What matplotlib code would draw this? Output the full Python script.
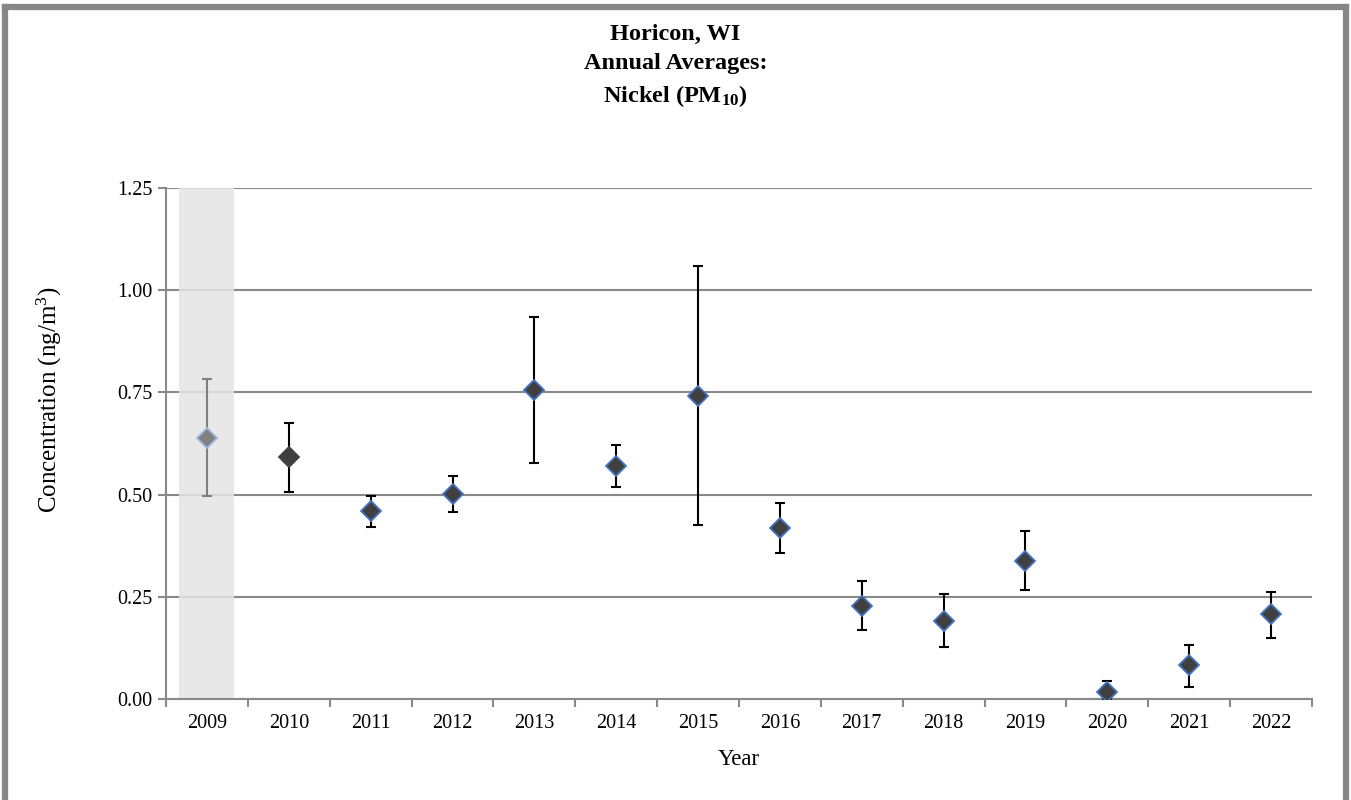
import matplotlib
matplotlib.use('Agg')
import matplotlib.pyplot as plt
from matplotlib.lines import Line2D
import numpy as np

plt.rcParams['font.family'] = ['Liberation Serif', 'DejaVu Serif']
plt.rcParams['mathtext.default'] = 'regular'

years = ['2009', '2010', '2011', '2012', '2013', '2014', '2015',
         '2016', '2017', '2018', '2019', '2020', '2021', '2022']
averages = [0.639, 0.592, 0.460, 0.501, 0.756, 0.571, 0.742,
            0.419, 0.228, 0.192, 0.338, 0.018, 0.082, 0.207]
upper = [0.782, 0.676, 0.497, 0.546, 0.935, 0.622, 1.059,
         0.479, 0.288, 0.257, 0.412, 0.044, 0.132, 0.262]
lower = [0.497, 0.506, 0.420, 0.457, 0.577, 0.519, 0.426,
         0.358, 0.169, 0.128, 0.266, 0.000, 0.030, 0.150]

avg = np.array(averages)
err_lo = avg - np.array(lower)
err_hi = np.array(upper) - avg
x = np.arange(len(years))

fig = plt.figure(figsize=(13.51, 8), dpi=100)
ax = fig.add_axes([0.1229, 0.12625, 0.9711 - 0.1229, 0.765 - 0.12625])

# 2009 shown as a shaded, greyed-out year
ax.axvspan(-0.34, 0.33, color='#e4e4e4', alpha=0.85, zorder=1, lw=0)

ax.errorbar(x[:1], avg[:1], yerr=[err_lo[:1], err_hi[:1]], fmt='none',
            ecolor='#808080', elinewidth=1.5, capsize=3.8, capthick=1.5, zorder=3)
ax.plot(x[:1], avg[:1], 'D', color='#808080', markeredgecolor='#9fb5e3',
        markersize=10, markeredgewidth=1.3, zorder=4)

ax.errorbar(x[1:], avg[1:], yerr=[err_lo[1:], err_hi[1:]], fmt='none',
            ecolor='black', elinewidth=1.5, capsize=3.8, capthick=1.5, zorder=3)
ax.plot(x[1:2], avg[1:2], 'D', color='#404040', markeredgecolor='#404040',
        markersize=10, markeredgewidth=1.3, zorder=4)
ax.plot(x[2:], avg[2:], 'D', color='#404040', markeredgecolor='#4472c4',
        markersize=10, markeredgewidth=1.3, zorder=4)

ax.set_xlim(-0.5, len(years) - 0.5)
ax.set_ylim(0, 1.25)
ax.set_yticks(np.arange(0, 1.26, 0.25))
ax.set_yticklabels(['%.2f' % v for v in np.arange(0, 1.26, 0.25)])
ax.yaxis.grid(True, color='#898989', lw=1.5)
ax.set_axisbelow(True)

# category boundaries get the tick marks, labels sit in the middle
ax.set_xticks(np.arange(-0.5, len(years)), minor=False)
ax.set_xticklabels([])
ax.set_xticks(x, minor=True)
ax.set_xticklabels(years, minor=True)
ax.tick_params(axis='x', which='minor', length=0, pad=11, labelsize=14.5)
ax.tick_params(axis='x', which='major', length=6, width=1.5, color='#898989')
ax.tick_params(axis='y', length=6, width=1.5, color='#898989', labelsize=14.5, pad=4)

for s in ['top', 'right']:
    ax.spines[s].set_visible(False)
for s in ['left', 'bottom']:
    ax.spines[s].set_color('#898989')
    ax.spines[s].set_linewidth(1.5)

ax.set_xlabel('Year', fontsize=16.5, labelpad=11)
ax.set_ylabel('Concentration (ng/m$^3$)', fontsize=18)
ax.yaxis.set_label_coords(-0.089, 0.585)

fig.text(0.5, 1 - 24 / 800, 'Horicon, WI\nAnnual Averages:\nNickel (PM$_{10}$)',
         ha='center', va='top', fontsize=17.5, fontweight='bold', linespacing=1.5)

# outer frame (open at the bottom)
frame = dict(color='#878787', lw=4.5, transform=fig.transFigure, solid_capstyle='projecting')
fig.add_artist(Line2D([5 / 1351, 5 / 1351], [0, 1 - 7 / 800], **frame))
fig.add_artist(Line2D([5 / 1351, 1346 / 1351], [1 - 7 / 800, 1 - 7 / 800], **frame))
fig.add_artist(Line2D([1346 / 1351, 1346 / 1351], [0, 1 - 7 / 800], **frame))

fig.savefig('out.png', dpi=100)
